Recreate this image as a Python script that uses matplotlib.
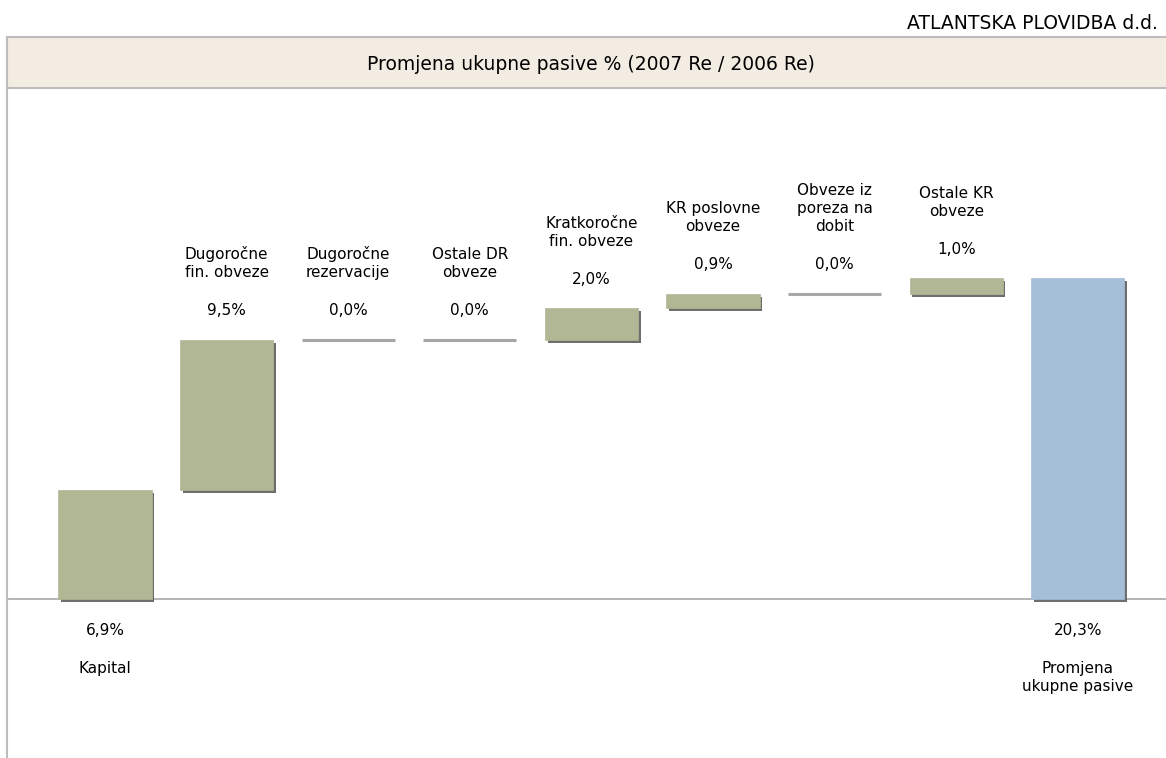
import numpy as np
import matplotlib
matplotlib.use("Agg")
import matplotlib.pyplot as plt
import matplotlib.patheffects as pe
from matplotlib.patches import Rectangle
from matplotlib.lines import Line2D

categories = ["Kapital", "Dugoročne\nfin. obveze", "Dugoročne\nrezervacije", "Ostale DR\nobveze",
              "Kratkoročne\nfin. obveze", "KR poslovne\nobveze", "Obveze iz\nporeza na\ndobit",
              "Ostale KR\nobveze", "Promjena\nukupne pasive"]
values = [6.9, 9.5, 0.0, 0.0, 2.0, 0.9, 0.0, 1.0, 20.3]
value_labels = ["6,9%", "9,5%", "0,0%", "0,0%", "2,0%", "0,9%", "0,0%", "1,0%", "20,3%"]
title = "Promjena ukupne pasive % (2007 Re / 2006 Re)"
company = "ATLANTSKA PLOVIDBA d.d."

W, H = 1166, 758
fig = plt.figure(figsize=(W / 100, H / 100), dpi=100)
plt.rcParams['font.family'] = ['DejaVu Sans']

def fx(px):
    return px / W

def fy(py):
    return 1 - py / H

# main axes: px x 7..1166, y 88..758
ax = fig.add_axes([fx(7), fy(758), fx(1166) - fx(7), fy(88) - fy(758)])
ax.set_axis_off()
n = len(values)
x = np.arange(n)
scale = 15.8
ax.set_xlim((7 - 105) / 121.6, (1166 - 105) / 121.6)
ax.set_ylim(-(758 - 599) / scale, (599 - 88) / scale)

vals = np.array(values)
bottoms = np.concatenate([[0], np.cumsum(vals[:-2])])
bottoms = np.append(bottoms, 0)
colors = ['#B1B695'] * (n - 1) + ['#A4BFD7']

ax.axhline(0, color='#A8A8A8', lw=1.2, zorder=1)

bars = ax.bar(x, vals, bottom=bottoms, width=0.765, color=colors, zorder=3, linewidth=0)
for b, v in zip(bars, vals):
    if v == 0:
        b.set_edgecolor('#A6A6A6')
        b.set_linewidth(2.2)
        b.set_path_effects([pe.Normal()])
    else:
        b.set_edgecolor(b.get_facecolor())
        b.set_linewidth(0.5)
        b.set_path_effects([pe.SimplePatchShadow(offset=(2, -2), shadow_rgbFace='#5E5E5E', alpha=0.9), pe.Normal()])

fs = 11
for i in range(n):
    top = bottoms[i] + vals[i]
    if i == 0 or i == n - 1:
        ax.annotate(value_labels[i], (x[i], 0), xytext=(0, -22.5), textcoords='offset points',
                    ha='center', va='center', fontsize=fs)
        ax.annotate(categories[i], (x[i], 0), xytext=(0, -45), textcoords='offset points',
                    ha='center', va='top', fontsize=fs, linespacing=1.25)
    else:
        ax.annotate(value_labels[i], (x[i], top), xytext=(0, 21), textcoords='offset points',
                    ha='center', va='center', fontsize=fs)
        ax.annotate(categories[i], (x[i], top), xytext=(0, 43), textcoords='offset points',
                    ha='center', va='bottom', fontsize=fs, linespacing=1.25)

# frame and title bar
fig.add_artist(Rectangle((fx(7), fy(88)), 1 - fx(7), fy(37) - fy(88), transform=fig.transFigure,
                         facecolor='#F3ECE2', edgecolor='none', zorder=0))
fig.add_artist(Line2D([fx(7), 1], [fy(37), fy(37)], transform=fig.transFigure, color='#BDBDBD', lw=1.5))
fig.add_artist(Line2D([fx(7), 1], [fy(88), fy(88)], transform=fig.transFigure, color='#BDBDBD', lw=1.5))
fig.add_artist(Line2D([fx(7), fx(7)], [fy(37), 0], transform=fig.transFigure, color='#BDBDBD', lw=1.5))
fig.text(fx(591), fy(69.5), title, ha='center', va='baseline', fontsize=13.5)
fig.text(fx(1158), fy(29), company, ha='right', va='baseline', fontsize=13.5)

fig.savefig('out.png', dpi=100)
